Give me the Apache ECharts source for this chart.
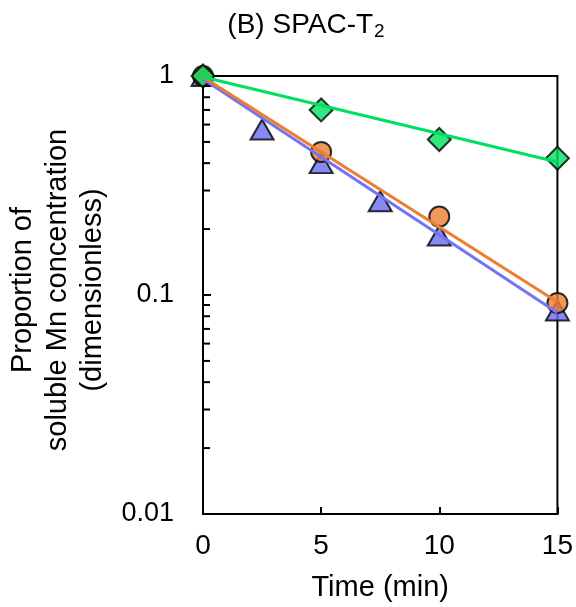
<!DOCTYPE html>
<html>
<head>
<meta charset="utf-8">
<script src="https://cdn.jsdelivr.net/npm/echarts@6/dist/echarts.min.js"></script>
<style>html,body{margin:0;padding:0;background:#fff;}#c{width:576px;height:607px;}</style>
</head>
<body>
<div id="c"></div>
<script>
// ---- data ----
const triTime = [0, 2.5, 5, 7.5, 10, 15];
const triValues = [1, 0.57, 0.40, 0.268, 0.187, 0.085];
const circTime = [0, 5, 10, 15];
const circValues = [1, 0.45, 0.228, 0.092];
const diaTime = [0, 5, 10, 15];
const diaValues = [1, 0.70, 0.513, 0.421];
const fitTime = [0, 15];
const blueFit = [0.97, 0.083];
const orangeFit = [0.99, 0.093];
const greenFit = [0.99, 0.405];
const xTickLabels = ['0', '5', '10', '15'];
const yTickLabels = ['0.01', '0.1', '1'];
const yMinorTicks = [0.02,0.03,0.04,0.05,0.06,0.07,0.08,0.09,0.2,0.3,0.4,0.5,0.6,0.7,0.8,0.9];

const FONT = "'Liberation Sans', Arial, sans-serif";
const pair = (xs, ys) => xs.map((x, i) => [x, ys[i]]);

const chart = echarts.init(document.getElementById('c'), null, {renderer: 'canvas'});
chart.setOption({
  animation: false,
  backgroundColor: '#fff',
  grid: {left: 203, right: 16, top: 76, bottom: 90, show: true, borderColor: '#000', borderWidth: 2, backgroundColor: 'transparent'},
  xAxis: {
    type: 'value', min: 0, max: 15, interval: 5,
    axisLine: {lineStyle: {color: '#000', width: 2}},
    axisTick: {inside: true, length: 7, lineStyle: {color: '#000', width: 2}},
    axisLabel: {color: '#000', fontSize: 28, fontFamily: FONT, margin: 18,
      formatter: v => xTickLabels[Math.round(v / 5)]},
    splitLine: {show: false},
    name: 'Time (min)', nameLocation: 'middle', nameGap: 59,
    nameTextStyle: {color: '#000', fontSize: 29, fontFamily: FONT}
  },
  yAxis: {
    type: 'log', logBase: 10, min: 0.01, max: 1,
    axisLine: {lineStyle: {color: '#000', width: 2}},
    axisTick: {inside: true, length: 8, lineStyle: {color: '#000', width: 2}},
    axisLabel: {color: '#000', fontSize: 27, fontFamily: FONT, margin: 29,
      formatter: v => yTickLabels[Math.round(Math.log10(v)) + 2]},
    splitLine: {show: false}
  },
  graphic: [
    {type: 'text', x: 306, y: 25, style: {
      text: '{a|(B) SPAC-T}{b|2}', align: 'center', verticalAlign: 'middle',
      rich: {a: {fontSize: 28, fontFamily: FONT, fill: '#000'}, b: {fontSize: 19, fontFamily: FONT, fill: '#000', padding: [13, 0, 0, 1]}}
    }},
    {type: 'text', x: 58, y: 290, rotation: Math.PI / 2, style: {
      text: 'Proportion of\nsoluble Mn concentration\n(dimensionless)', align: 'center', verticalAlign: 'middle',
      fontSize: 29, fontFamily: FONT, fill: '#000', lineHeight: 35
    }}
  ],
  series: [
    {type: 'custom', z: 5, silent: true, clip: false,
      data: yMinorTicks.map(v => [0, v]),
      renderItem: (params, api) => {
        const p = api.coord([api.value(0), api.value(1)]);
        return {type: 'line', shape: {x1: p[0], y1: p[1], x2: p[0] + 7, y2: p[1]}, style: {stroke: '#000', lineWidth: 2}};
      }},
    {type: 'scatter', z: 2, symbol: 'triangle', symbolSize: [23, 20], data: pair(triTime, triValues),
      itemStyle: {color: '#6B6BF2', borderColor: '#000', borderWidth: 2}},
    {type: 'scatter', z: 3, symbol: 'circle', symbolSize: 20, data: pair(circTime, circValues),
      itemStyle: {color: '#ED7D31', borderColor: '#000', borderWidth: 2}},
    {type: 'scatter', z: 4, symbol: 'diamond', symbolSize: [23, 23], data: pair(diaTime, diaValues),
      itemStyle: {color: '#00E060', borderColor: '#000', borderWidth: 2}},
    {type: 'line', z: 6, symbol: 'none', data: pair(fitTime, blueFit), lineStyle: {color: '#7373F5', width: 3}},
    {type: 'line', z: 6, symbol: 'none', data: pair(fitTime, orangeFit), lineStyle: {color: '#ED7D31', width: 3}},
    {type: 'line', z: 6, symbol: 'none', data: pair(fitTime, greenFit), lineStyle: {color: '#00E060', width: 3}}
  ]
});
</script>
</body>
</html>
